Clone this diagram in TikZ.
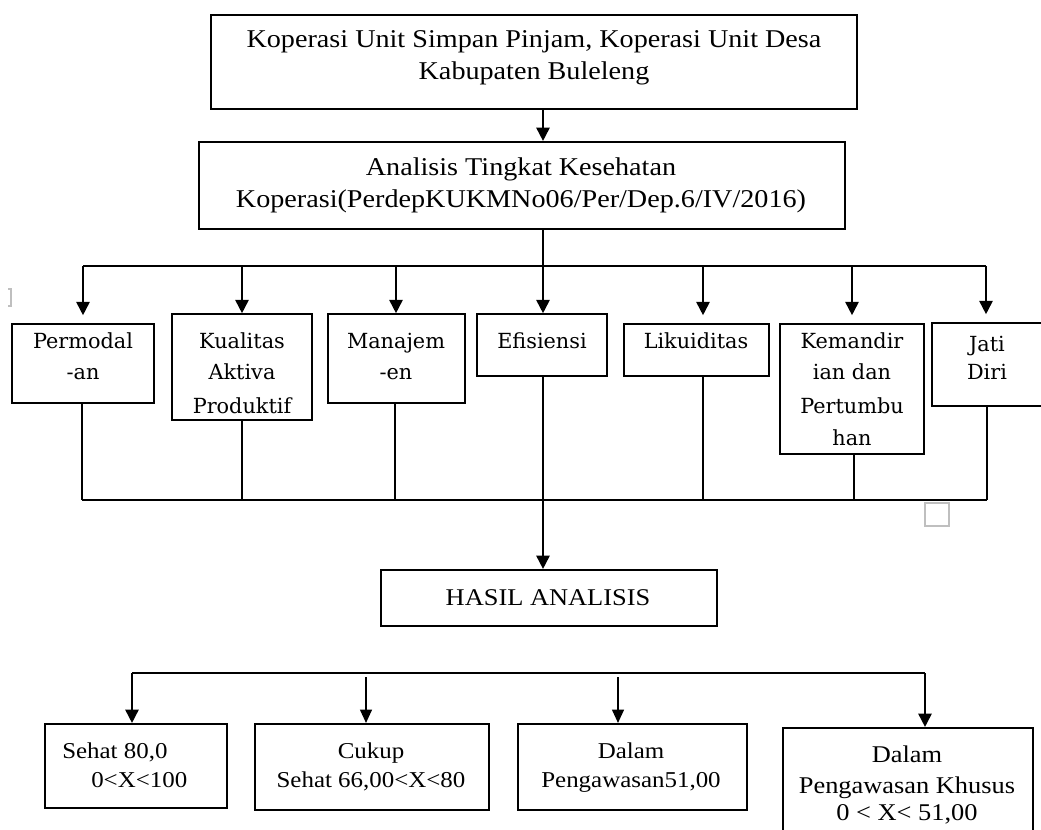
\documentclass[tikz,border=0pt]{standalone}
\usepackage{fontspec}
\setmainfont{Liberation Serif}[FakeStretch=1.1]
\newfontfamily\midfont{DejaVu Serif}
\usetikzlibrary{arrows.meta,fit}
\begin{document}
\begin{tikzpicture}[x=0.75pt,y=-0.75pt,
 box/.style={draw, line width=1.6pt, inner sep=0pt},
 mbox/.style={draw, line width=1.2pt, inner sep=0pt},
 conn/.style={line width=1.3pt},
 thin/.style={line width=1pt},
 arr/.style={line width=1.3pt, -{Triangle[length=10pt,width=10pt]}},
 tarr/.style={line width=0.9pt, -{Triangle[length=10pt,width=9pt]}},
 toptxt/.style={anchor=base, font=\fontsize{19.2}{23}\selectfont, inner sep=0pt},
 midtxt/.style={anchor=base, font=\midfont\fontsize{15.6}{18}\selectfont, inner sep=0pt},
 bottxt/.style={anchor=base, font=\fontsize{17}{20}\selectfont, inner sep=0pt},
 artifact/.style={draw=black!25, line width=1.2pt}]
\useasboundingbox (0,0) rectangle (1041,830);
\clip (0,0) rectangle (1041,830);

% top boxes
\node[box, fit={(211,15) (857,109)}] (top) {};
\node[toptxt] (ta) at (534,48) {Koperasi Unit Simpan Pinjam, Koperasi Unit Desa};
\node[toptxt] (tb) at (534,80) {Kabupaten Buleleng};

\node[box, fit={(199,142) (845,229)}] (ana) {};
\node[toptxt] (aa) at (521,176) {Analisis Tingkat Kesehatan};
\node[toptxt] (ab) at (521,208) {Koperasi(PerdepKUKMNo06/Per/Dep.6/IV/2016)};

\coordinate (ax) at (543,0);
\draw[arr] (top.south -| ax) -- (ana.north -| ax);

% middle boxes
\node[mbox, fit={(12,324) (154,403)}] (perm) {};
\node[midtxt] (p1) at (83,349) {Permodal};
\node[midtxt] (p2) at (83,379) {-an};

\node[mbox, fit={(172,314) (312,420)}] (kual) {};
\node[midtxt] (k1) at (242,349) {Kualitas};
\node[midtxt] (k2) at (242,379) {Aktiva};
\node[midtxt] (k3) at (242,413) {Produktif};

\node[mbox, fit={(328,314) (465,403)}] (mana) {};
\node[midtxt] (m1) at (396,349) {Manajem};
\node[midtxt] (m2) at (396,379) {-en};

\node[mbox, fit={(477,314) (607,376)}] (efi) {};
\node[midtxt] (e1) at (542,348) {Efisiensi};

\node[mbox, fit={(624,324) (769,376)}] (liku) {};
\node[midtxt] (l1) at (696,348) {Likuiditas};

\node[mbox, fit={(780,324) (924,454)}] (kema) {};
\node[midtxt] (km1) at (852,349) {Kemandir};
\node[midtxt] (km2) at (852,379) {ian dan};
\node[midtxt] (km3) at (852,413) {Pertumbu};
\node[midtxt] (km4) at (852,445) {han};

\node[mbox, fit={(932,323) (1045,406)}] (jati) {};
\node[midtxt] (j1) at (987,351) {Jati};
\node[midtxt] (j2) at (987,379) {Diri};

% upper bus
\coordinate (u1) at (83,266);
\coordinate (u2) at (242,266);
\coordinate (u3) at (396,266);
\coordinate (u4) at (543,266);
\coordinate (u5) at (703,266);
\coordinate (u6) at (852,266);
\coordinate (u7) at (986,266);
\draw[conn] (ana.south -| u4) -- (u4);
\draw[conn] (u1) -- (u7);
\draw[arr, shorten >=6pt] (u1) -- (u1 |- perm.north);
\draw[arr] (u2) -- (u2 |- kual.north);
\draw[arr] (u3) -- (u3 |- mana.north);
\draw[arr] (u4) -- (u4 |- efi.north);
\draw[arr, shorten >=6pt] (u5) -- (u5 |- liku.north);
\draw[arr, shorten >=6pt] (u6) -- (u6 |- kema.north);
\draw[arr, shorten >=6pt] (u7) -- (u7 |- jati.north);

% lower bus
\coordinate (d1) at (82,500);
\coordinate (d2) at (242,500);
\coordinate (d3) at (395,500);
\coordinate (d5) at (703,500);
\coordinate (d6) at (854,500);
\coordinate (d7) at (987,500);
\draw[thin] (d1 |- perm.south) -- (d1);
\draw[thin] (d2 |- kual.south) -- (d2);
\draw[thin] (d3 |- mana.south) -- (d3);
\draw[thin] (d5 |- liku.south) -- (d5);
\draw[thin] (d6 |- kema.south) -- (d6);
\draw[thin] (d7 |- jati.south) -- (d7);
\draw[thin] (d1) -- (d7);

% hasil
\node[box, fit={(381,570) (717,626)}] (hasil) {};
\node[toptxt, font=\fontsize{18}{21}\selectfont] (h1) at (548,605) {HASIL ANALISIS};
\coordinate (hx) at (543,0);
\draw[arr] (efi.south -| hx) -- (hasil.north -| hx);

% bottom boxes
\node[box, fit={(45,724) (227,808)}] (s1) {};
\node[bottxt, anchor=base west] (s1a) at (62,758) {Sehat 80,0};
\node[bottxt, anchor=base west] (s1b) at (91,787) {0<X<100};

\node[box, fit={(255,724) (489,810)}] (s2) {};
\node[bottxt] (s2a) at (371,758) {Cukup};
\node[bottxt] (s2b) at (371,787) {Sehat 66,00<X<80};

\node[box, fit={(518,724) (747,810)}] (s3) {};
\node[bottxt] (s3a) at (631,758) {Dalam};
\node[bottxt] (s3b) at (631,787) {Pengawasan51,00};

\node[box, fit={(783,728) (1033,860)}] (s4) {};
\node[bottxt, font=\fontsize{18}{21}\selectfont] (s4a) at (907,762) {Dalam};
\node[bottxt, font=\fontsize{18}{21}\selectfont] (s4b) at (907,793) {Pengawasan Khusus};
\node[bottxt, font=\fontsize{18}{21}\selectfont] (s4c) at (907,820) {0 < X< 51,00};

\coordinate (b1) at (132,673);
\coordinate (b2) at (366,677);
\coordinate (b3) at (618,677);
\coordinate (b4) at (925,673);
\draw[conn, line width=1.6pt] (b1) -- (b4);
\draw[arr] (b1) -- (b1 |- s1.north);
\draw[tarr] (b2) -- (b2 |- s2.north);
\draw[tarr] (b3) -- (b3 |- s3.north);
\draw[arr] (b4) -- (b4 |- s4.north);

% faint artifacts
\draw[artifact] (925,503) rectangle (949,526);
\draw[artifact] (8,289) -- (11,289) -- (11,306) -- (8,306);
\end{tikzpicture}
\end{document}
